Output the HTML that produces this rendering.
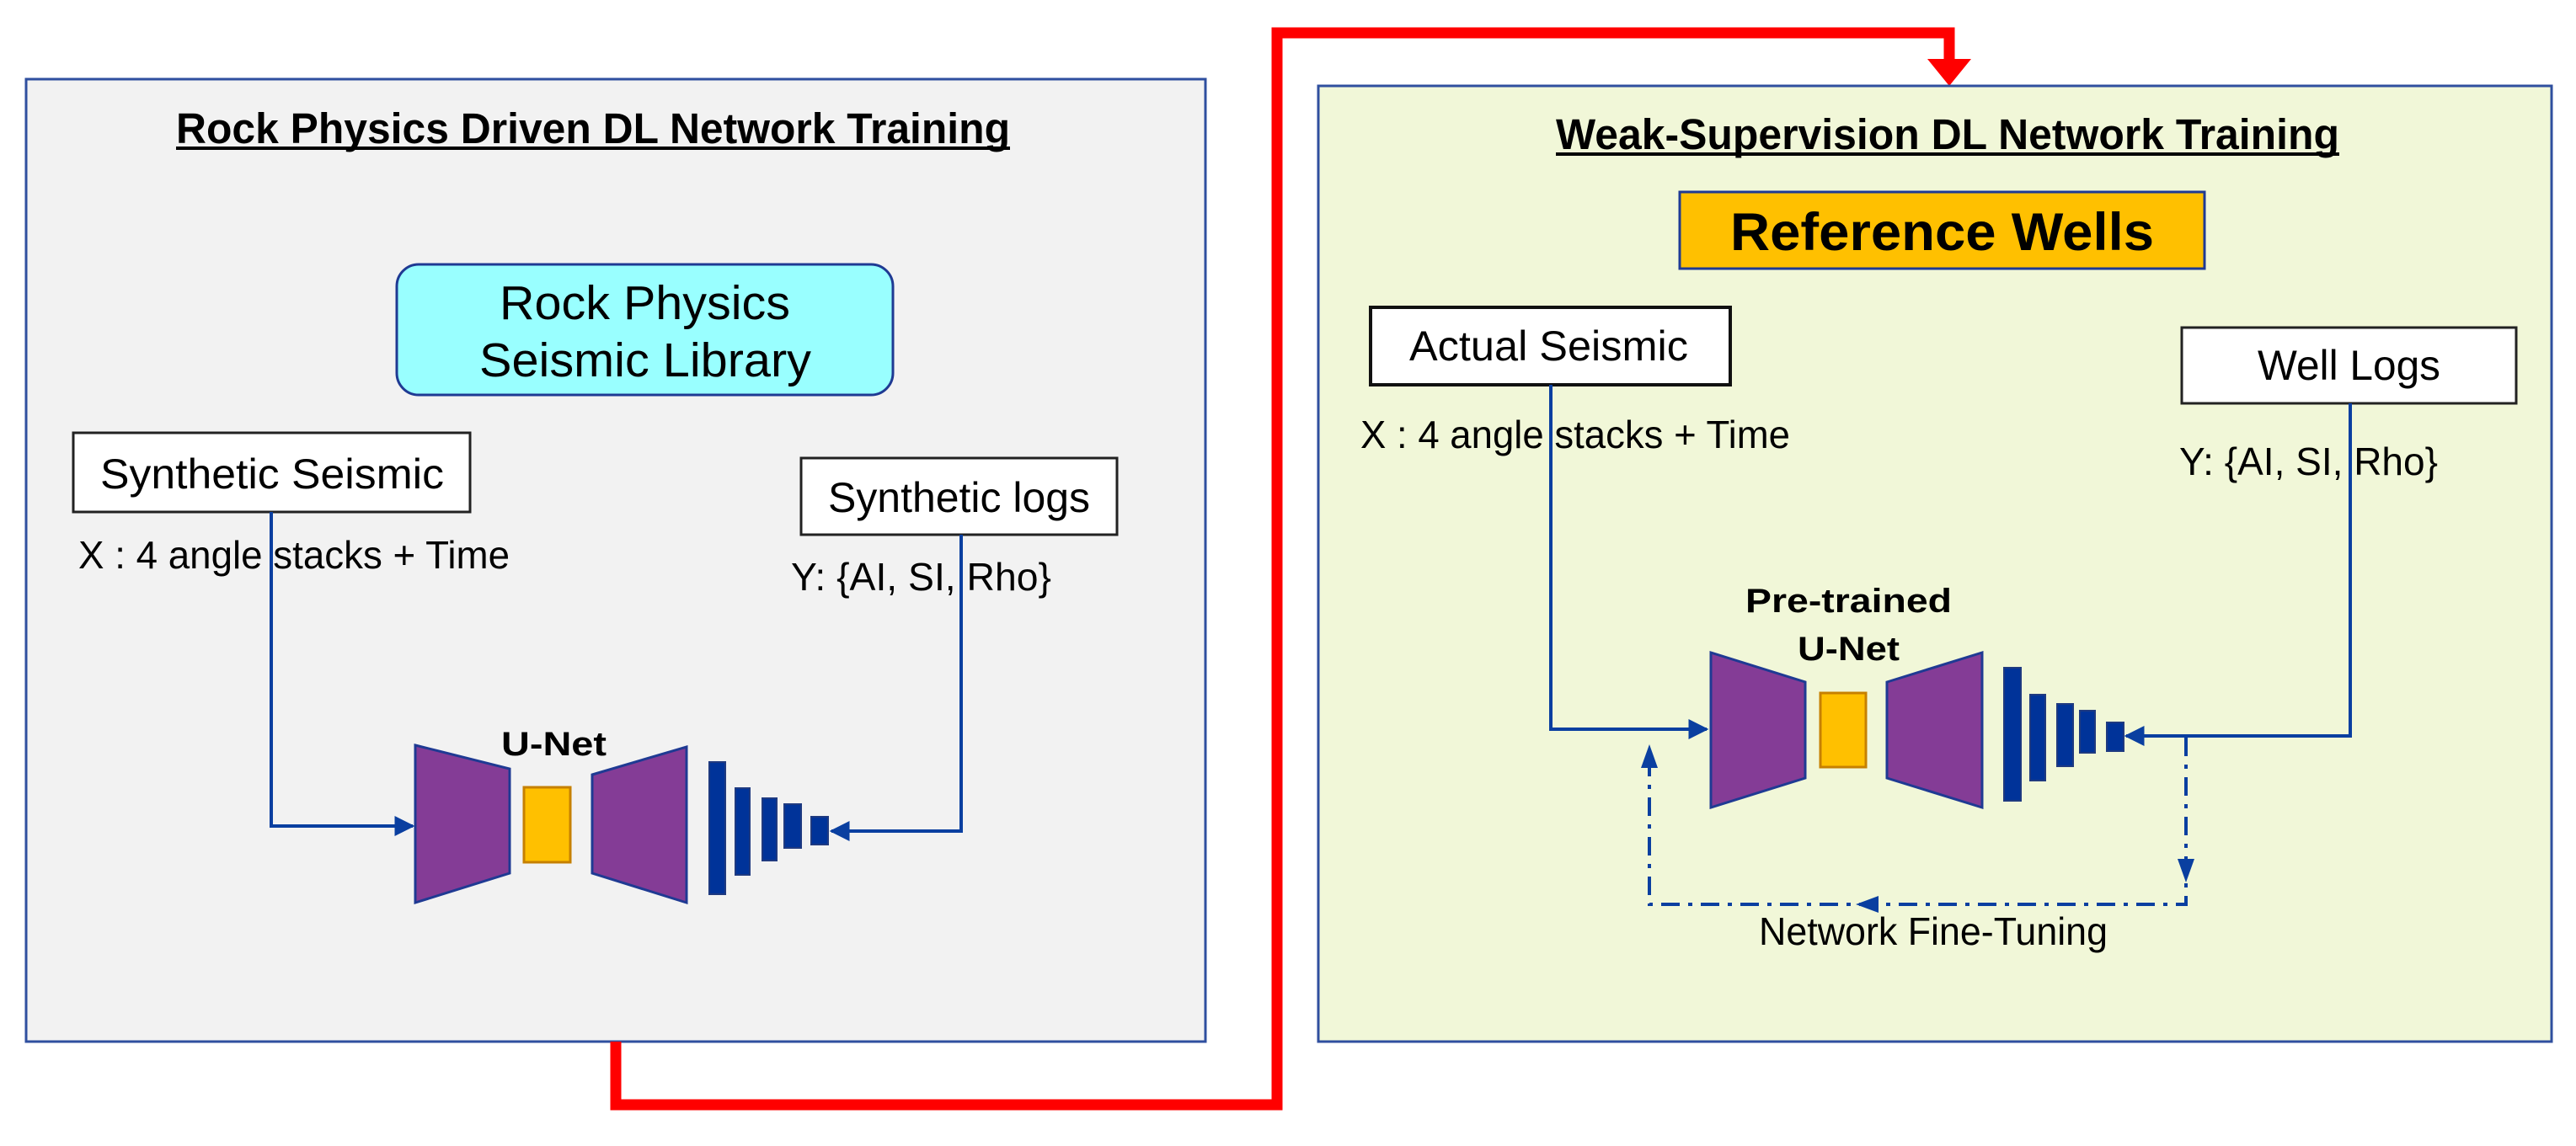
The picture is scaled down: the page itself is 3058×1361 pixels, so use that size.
<!DOCTYPE html>
<html><head><meta charset="utf-8"><style>
html,body{margin:0;padding:0;background:#fff;}
svg{display:block;}
text{font-family:"Liberation Sans",Arial,sans-serif;fill:#000;}
.b{font-weight:bold;}
</style></head><body>
<svg width="3058" height="1361" viewBox="0 0 3058 1361" xmlns="http://www.w3.org/2000/svg">
<defs>
<marker id="ab" viewBox="0 0 10 10" refX="9" refY="5" markerWidth="6" markerHeight="6" orient="auto" markerUnits="strokeWidth"><path d="M0,0 L10,5 L0,10 z" fill="#0a3fa0"/></marker>
</defs>
<!-- Left panel -->
<rect x="31" y="94" width="1400" height="1143" fill="#f2f2f2" stroke="#2f4f9f" stroke-width="3"/>
<text x="209" y="170" class="b" font-size="51" textLength="990" lengthAdjust="spacingAndGlyphs">Rock Physics Driven DL Network Training</text>
<rect x="209" y="174" width="990" height="4" fill="#000"/>
<rect x="471" y="314" width="589" height="155" rx="26" fill="#99ffff" stroke="#1f3a93" stroke-width="3"/>
<text x="593" y="379" font-size="57" textLength="345" lengthAdjust="spacingAndGlyphs">Rock Physics</text>
<text x="569" y="447" font-size="57" textLength="394" lengthAdjust="spacingAndGlyphs">Seismic Library</text>
<rect x="87" y="514" width="471" height="94" fill="#fff" stroke="#222" stroke-width="3"/>
<text x="119" y="580" font-size="50" textLength="408" lengthAdjust="spacingAndGlyphs">Synthetic  Seismic</text>
<text x="93" y="675" font-size="46" textLength="512" lengthAdjust="spacingAndGlyphs">X : 4 angle  stacks + Time</text>
<rect x="951" y="544" width="375" height="91" fill="#fff" stroke="#222" stroke-width="3"/>
<text x="983" y="608" font-size="50" textLength="311" lengthAdjust="spacingAndGlyphs">Synthetic logs</text>
<text x="939" y="701" font-size="46" textLength="309" lengthAdjust="spacingAndGlyphs">Y: {AI, SI, Rho}</text>
<polyline points="322,608 322,981 490,981" fill="none" stroke="#0a3fa0" stroke-width="4" marker-end="url(#ab)"/>
<polyline points="1141,635 1141,987 987,987" fill="none" stroke="#0a3fa0" stroke-width="4" marker-end="url(#ab)"/>
<text x="595" y="897" class="b" font-size="40" textLength="125" lengthAdjust="spacingAndGlyphs">U-Net</text>
<polygon points="493,885 605,913 605,1037 493,1072" fill="#843c96" stroke="#1f3a93" stroke-width="3"/>
<rect x="622" y="935" width="55" height="89" fill="#ffc000" stroke="#c68000" stroke-width="3"/>
<polygon points="703,920 815,887 815,1072 703,1037" fill="#843c96" stroke="#1f3a93" stroke-width="3"/>
<g fill="#003399" stroke="#1f3a80" stroke-width="2">
<rect x="842" y="905" width="19" height="157"/><rect x="873" y="936" width="17" height="103"/><rect x="905" y="948" width="17" height="74"/><rect x="931" y="955" width="20" height="52"/><rect x="963" y="970" width="20" height="33"/>
</g>
<!-- Red connector -->
<polyline points="731,1237 731,1312 1516,1312 1516,39 2314,39 2314,78" fill="none" stroke="#ff0000" stroke-width="13"/>
<polygon points="2288,70 2340,70 2314,102" fill="#ff0000"/>
<!-- Right panel -->
<rect x="1565" y="102" width="1464" height="1135" fill="#f1f7d8" stroke="#2f4f9f" stroke-width="3"/>
<text x="1847" y="177" class="b" font-size="51" textLength="930" lengthAdjust="spacingAndGlyphs">Weak-Supervision DL Network Training</text>
<rect x="1847" y="181" width="930" height="4" fill="#000"/>
<rect x="1994" y="228" width="623" height="91" fill="#ffc000" stroke="#1f3a93" stroke-width="3"/>
<text x="2054" y="297" class="b" font-size="63" textLength="503" lengthAdjust="spacingAndGlyphs">Reference Wells</text>
<rect x="1627" y="365" width="427" height="92" fill="#fff" stroke="#111" stroke-width="4"/>
<text x="1673" y="428" font-size="50" textLength="331" lengthAdjust="spacingAndGlyphs">Actual Seismic</text>
<text x="1615" y="532" font-size="46" textLength="510" lengthAdjust="spacingAndGlyphs">X : 4 angle  stacks + Time</text>
<rect x="2590" y="389" width="397" height="90" fill="#fff" stroke="#222" stroke-width="3"/>
<text x="2680" y="451" font-size="50" textLength="217" lengthAdjust="spacingAndGlyphs">Well Logs</text>
<text x="2587" y="564" font-size="46" textLength="307" lengthAdjust="spacingAndGlyphs">Y: {AI, SI, Rho}</text>
<polyline points="1841,457 1841,866 2026,866" fill="none" stroke="#0a3fa0" stroke-width="4" marker-end="url(#ab)"/>
<polyline points="2790,479 2790,874 2524,874" fill="none" stroke="#0a3fa0" stroke-width="4" marker-end="url(#ab)"/>
<text x="2072" y="727" class="b" font-size="40" textLength="245" lengthAdjust="spacingAndGlyphs">Pre-trained</text>
<text x="2134" y="784" class="b" font-size="40" textLength="121" lengthAdjust="spacingAndGlyphs">U-Net</text>
<polygon points="2031,775 2143,810 2143,924 2031,959" fill="#843c96" stroke="#1f3a93" stroke-width="3"/>
<rect x="2161" y="823" width="54" height="88" fill="#ffc000" stroke="#c68000" stroke-width="3"/>
<polygon points="2240,810 2353,775 2353,959 2240,924" fill="#843c96" stroke="#1f3a93" stroke-width="3"/>
<g fill="#003399" stroke="#1f3a80" stroke-width="2">
<rect x="2379" y="793" width="20" height="158"/><rect x="2410" y="825" width="18" height="102"/><rect x="2442" y="836" width="19" height="74"/><rect x="2469" y="844" width="18" height="50"/><rect x="2501" y="858" width="20" height="34"/>
</g>
<g fill="none" stroke="#0a3fa0" stroke-width="4" stroke-dasharray="22,10,5,10">
<polyline points="2595,876 2595,1074 1958,1074 1958,890"/>
</g>
<polygon points="2585,1020 2605,1020 2595,1048" fill="#0a3fa0"/>
<polygon points="2203,1074 2230,1064 2230,1084" fill="#0a3fa0"/>
<polygon points="1948,912 1968,912 1958,884" fill="#0a3fa0"/>
<text x="2088" y="1122" font-size="46" textLength="414" lengthAdjust="spacingAndGlyphs">Network Fine-Tuning</text>
</svg>
</body></html>
